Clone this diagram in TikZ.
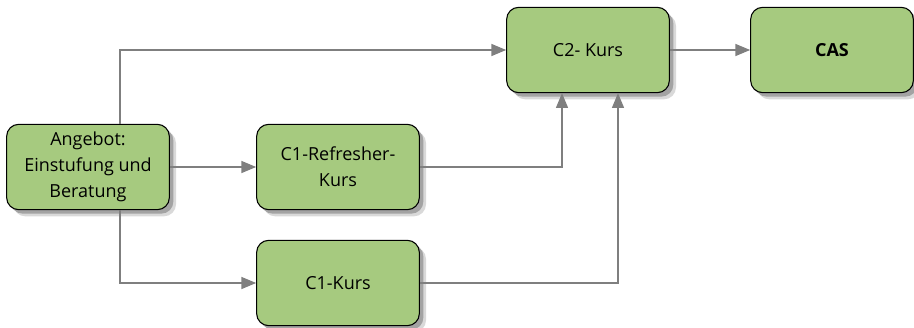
\documentclass[tikz,border=0pt]{standalone}
\usepackage{fontspec}
\setmainfont{Open Sans}
\usetikzlibrary{shadows,arrows.meta}
\definecolor{boxgreen}{HTML}{A6CA7F}
\definecolor{linegray}{HTML}{7F7F7F}

\begin{document}
\begin{tikzpicture}[x=0.75pt, y=-0.75pt,
	kurs/.style = {draw, thick, fill=boxgreen, rounded corners=9pt, minimum width=122pt, minimum height=64pt, align=center, font=\fontsize{13.5}{19.5}\selectfont,
		drop shadow={shadow xshift=5pt, shadow yshift=-5pt, opacity=0.15, fill=black},
		drop shadow={shadow xshift=3pt, shadow yshift=-3pt, opacity=0.25, fill=black}},
	pfeil/.style = {draw=linegray, thick, -{Triangle[length=11pt, width=9pt]}, color=linegray}]
	\useasboundingbox (0,0) rectangle (914,328);

	\node[kurs] (angebot) at (88,167) {Angebot:\\Einstufung und\\Beratung};
	\node[kurs] (refresher) at (338,167) {C1-Refresher-\\Kurs};
	\node[kurs] (ceins) at (338,283) {C1-Kurs};
	\node[kurs] (czwei) at (588,50) {C2- Kurs};
	\node[kurs] (cas) at (832,50) {\textbf{CAS}};

	\draw[pfeil] (angebot.north -| 120,0) |- (czwei.west);
	\draw[pfeil] (angebot.east) -- (refresher.west);
	\draw[pfeil] (angebot.south -| 120,0) |- (ceins.west);
	\draw[pfeil] (refresher.east) -| (czwei.south -| 562,0);
	\draw[pfeil] (ceins.east) -| (czwei.south -| 618,0);
	\draw[pfeil] (czwei.east) -- (cas.west);
\end{tikzpicture}
\end{document}
